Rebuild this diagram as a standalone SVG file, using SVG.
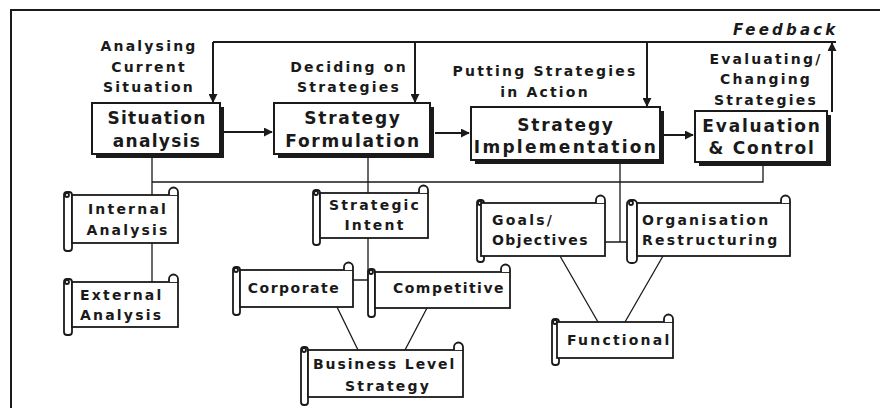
<svg xmlns="http://www.w3.org/2000/svg" width="880" height="408" viewBox="0 0 880 408">
<defs>
<marker id="ah" viewBox="0 0 10 10" refX="9" refY="5" markerWidth="9" markerHeight="9" markerUnits="userSpaceOnUse" orient="auto">
<path d="M0,0 L10,5 L0,10 z" fill="#1a1a1a"/>
</marker>
<style>
text{font-family:"DejaVu Sans","Liberation Sans",sans-serif;font-weight:bold;fill:#1a1a1a}
.lab{font-size:14px;letter-spacing:2.2px;text-anchor:middle}
.box{font-size:17px;letter-spacing:1.8px;text-anchor:middle}
.sn{font-size:14px;letter-spacing:2.2px}
.mid{text-anchor:middle}
.frame{fill:none;stroke:#1a1a1a;stroke-width:2}
.bx{fill:#fff;stroke:#1a1a1a;stroke-width:2}
.sh{fill:#1a1a1a}
.sc{fill:#fff;stroke:#1a1a1a;stroke-width:1.8}
.ln{fill:none;stroke:#1a1a1a;stroke-width:2}
.thin{fill:none;stroke:#1a1a1a;stroke-width:1.3}
.arr{fill:none;stroke:#1a1a1a;stroke-width:2;marker-end:url(#ah)}
</style>
</defs>
<rect width="880" height="408" fill="#fff"/>
<path class="frame" d="M11,408 V10 H880"/>

<g id="labels">
<text class="lab" x="149" y="51">Analysing</text>
<text class="lab" x="149" y="72">Current</text>
<text class="lab" x="149" y="92">Situation</text>
<text class="lab" x="349" y="72">Deciding on</text>
<text class="lab" x="349" y="92">Strategies</text>
<text class="lab" x="545" y="76">Putting Strategies</text>
<text class="lab" x="545" y="97">in Action</text>
<text class="lab" x="766" y="64">Evaluating/</text>
<text class="lab" x="766" y="84">Changing</text>
<text class="lab" x="766" y="105">Strategies</text>
<text x="733" y="35" style="font-size:15px;font-style:italic;letter-spacing:3.2px">Feedback</text>
</g>

<g id="connectors">
<path class="ln" d="M213,42 H836"/>
<path class="arr" d="M213,42 V102"/>
<path class="arr" d="M415,42 V102"/>
<path class="arr" d="M647,42 V106"/>
<path class="arr" d="M832,112 V43"/>
<path class="arr" d="M224,132 H272"/>
<path class="arr" d="M435,133 H469"/>
<path class="arr" d="M664,135 H693"/>
<path class="thin" d="M152,158 V195 M152,182 H763 V166 M368,158 V193 M620,164 V242 M605,242 H627"/>
<path class="thin" d="M152,243 V282"/>
<path class="thin" d="M368,238 V280 M353,280 H375"/>
<path class="thin" d="M337,307 L358,350 M427,308 L405,350"/>
<path class="thin" d="M560,256 L598,322 M663,256 L625,322"/>
</g>

<g id="situation">
<rect class="sh" x="96" y="107" width="128" height="51"/>
<rect class="bx" x="92" y="103" width="128" height="51"/>
<text class="box" x="157" y="124" style="letter-spacing:1.3px">Situation</text>
<text class="box" x="157" y="147" style="letter-spacing:1.3px">analysis</text>
</g>
<g id="formulation">
<rect class="sh" x="278" y="107" width="156" height="51"/>
<rect class="bx" x="274" y="103" width="156" height="51"/>
<text class="box" x="353" y="124">Strategy</text>
<text class="box" x="353" y="147">Formulation</text>
</g>
<g id="implementation">
<rect class="sh" x="475" y="111" width="189" height="53"/>
<rect class="bx" x="471" y="107" width="189" height="53"/>
<text class="box" x="566" y="131">Strategy</text>
<text class="box" x="566" y="153" style="letter-spacing:2.3px">Implementation</text>
</g>
<g id="evaluation">
<rect class="sh" x="699" y="115" width="132" height="51"/>
<rect class="bx" x="695" y="111" width="132" height="51"/>
<text class="box" x="762" y="132">Evaluation</text>
<text class="box" x="762" y="154">&amp; Control</text>
</g>

<g id="internal">
<rect class="sc" x="64" y="192" width="8" height="59" rx="3"/>
<circle class="sc" cx="67" cy="195" r="2"/>
<rect class="sc" x="72" y="195" width="106" height="48"/>
<path class="sc" d="M169,195 v-3 a4.5,4.5 0 0 1 9,0 v3"/>
<text class="sn mid" x="128" y="214">Internal</text>
<text class="sn mid" x="128" y="235">Analysis</text>
</g>
<g id="external">
<rect class="sc" x="64" y="279" width="8" height="56" rx="3"/>
<circle class="sc" cx="67" cy="282" r="2"/>
<rect class="sc" x="72" y="282" width="106" height="45"/>
<path class="sc" d="M169,282 v-3 a4.5,4.5 0 0 1 9,0 v3"/>
<text class="sn" x="80" y="300">External</text>
<text class="sn" x="80" y="320">Analysis</text>
</g>
<g id="intent">
<rect class="sc" x="313" y="190" width="7" height="55" rx="3"/>
<circle class="sc" cx="316" cy="193" r="2"/>
<rect class="sc" x="320" y="193" width="108" height="45"/>
<path class="sc" d="M419,193 v-3 a4.5,4.5 0 0 1 9,0 v3"/>
<text class="sn mid" x="375" y="210">Strategic</text>
<text class="sn mid" x="375" y="230">Intent</text>
</g>
<g id="corporate">
<rect class="sc" x="233" y="267" width="7" height="48" rx="3"/>
<circle class="sc" cx="236" cy="270" r="2"/>
<rect class="sc" x="240" y="270" width="113" height="37"/>
<path class="sc" d="M344,270 v-3 a4.5,4.5 0 0 1 9,0 v3"/>
<text class="sn mid" x="294" y="293" style="letter-spacing:1.5px">Corporate</text>
</g>
<g id="competitive">
<rect class="sc" x="368" y="269" width="7" height="48" rx="3"/>
<circle class="sc" cx="371" cy="272" r="2"/>
<rect class="sc" x="375" y="272" width="135" height="36"/>
<path class="sc" d="M501,272 v-3 a4.5,4.5 0 0 1 9,0 v3"/>
<text class="sn mid" x="449" y="293" style="letter-spacing:1.5px">Competitive</text>
</g>
<g id="business">
<rect class="sc" x="301" y="347" width="7" height="58" rx="3"/>
<circle class="sc" cx="304" cy="350" r="2"/>
<rect class="sc" x="308" y="350" width="155" height="47"/>
<path class="sc" d="M454,350 v-3 a4.5,4.5 0 0 1 9,0 v3"/>
<text class="sn" x="313" y="369" style="letter-spacing:1.9px">Business Level</text>
<text class="sn mid" x="388" y="391">Strategy</text>
</g>
<g id="goals">
<rect class="sc" x="477" y="200" width="7" height="62" rx="3"/>
<circle class="sc" cx="480" cy="203" r="2"/>
<rect class="sc" x="481" y="203" width="124" height="53"/>
<path class="sc" d="M596,203 v-3 a4.5,4.5 0 0 1 9,0 v3"/>
<text class="sn" x="492" y="225">Goals/</text>
<text class="sn" x="492" y="245" style="letter-spacing:1.4px">Objectives</text>
</g>
<g id="organisation">
<rect class="sc" x="627" y="200" width="10" height="63" rx="4"/>
<circle class="sc" cx="631" cy="203" r="2"/>
<rect class="sc" x="637" y="203" width="153" height="53"/>
<path class="sc" d="M781,203 v-3 a4.5,4.5 0 0 1 9,0 v3"/>
<text class="sn" x="642" y="225">Organisation</text>
<text class="sn" x="642" y="245">Restructuring</text>
</g>
<g id="functional">
<rect class="sc" x="552" y="319" width="7" height="46" rx="3"/>
<circle class="sc" cx="555" cy="322" r="2"/>
<rect class="sc" x="557" y="322" width="116" height="36"/>
<path class="sc" d="M664,322 v-3 a4.5,4.5 0 0 1 9,0 v3"/>
<text class="sn" x="567" y="345">Functional</text>
</g>
</svg>
